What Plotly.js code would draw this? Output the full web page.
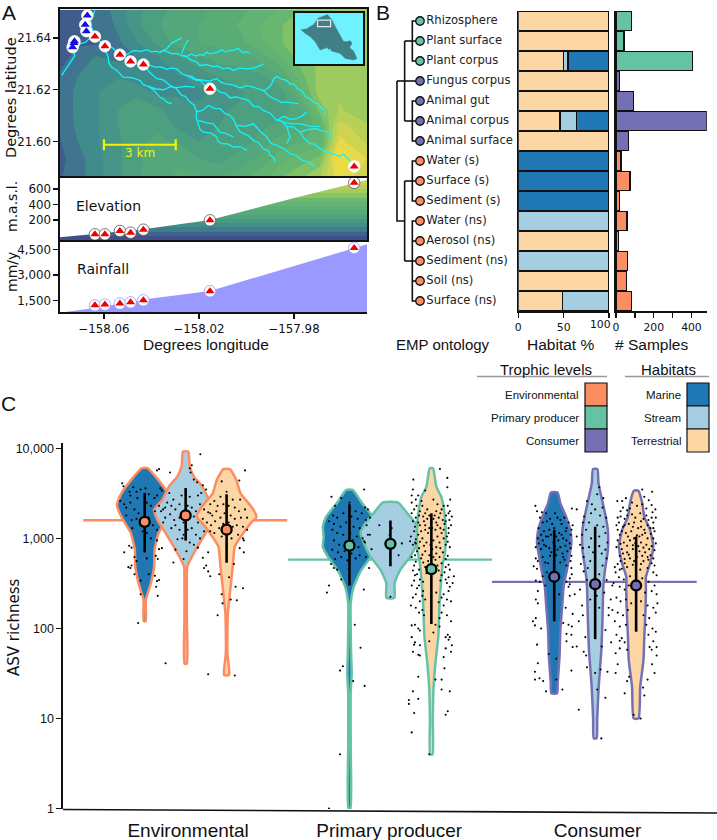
<!DOCTYPE html>
<html><head><meta charset="utf-8">
<script src="https://cdn.plot.ly/plotly-3.0.1.min.js"></script>
<style>html,body{margin:0;padding:0;background:#fff}</style></head>
<body><div id="chart" style="width:717px;height:840px"></div>
<script>
// ---------- Panel A data ----------
const mapLon=[-158.079,-158.071,-158.063,-158.054,-158.046,-158.037,-158.029,-158.020,-158.012,-158.003,-157.995,-157.986,-157.978,-157.969,-157.961,-157.949];
const mapLat=[21.651,21.645,21.638,21.632,21.625,21.619,21.612,21.606,21.600,21.593,21.586];
const mapElev=[
[30,40,60,110,170,210,240,260,280,300,330,360,400,430,450,460],
[20,30,50,100,170,220,260,270,290,320,360,400,430,450,460,470],
[20,40,40,80,130,190,240,270,280,300,340,400,430,450,460,470],
[30,60,100,80,90,130,170,210,240,250,280,340,420,460,470,470],
[50,90,130,130,100,120,130,150,180,200,210,260,380,470,480,470],
[60,100,130,170,170,120,130,130,140,170,210,200,320,480,490,460],
[60,100,130,180,200,190,150,140,170,190,200,210,240,420,500,470],
[50,100,130,180,210,220,170,150,180,190,220,230,250,350,560,500],
[40,90,130,170,220,230,220,180,190,210,230,290,310,330,600,530],
[30,70,120,170,220,240,260,230,210,240,280,340,380,420,680,580],
[40,70,120,170,220,250,280,280,270,300,340,400,440,500,620,540]];
const elevColors=[[0,'#3f4f8a'],[0.04,'#3f5f8c'],[0.08,'#3f7090'],[0.15,'#3f8a8c'],[0.3,'#4ea37e'],[0.55,'#6ab96e'],[0.65,'#9ccb60'],[0.85,'#e8d94a'],[1,'#f0e03a']];
const rivers=[
[-158.0778,21.6256,-158.0764,21.6275,-158.0743,21.6301,-158.0722,21.6333,-158.0732,21.6352,-158.0701,21.6378,-158.0676,21.6385,-158.0656,21.6403,-158.0638,21.6406],
[-158.0638,21.6406,-158.0652,21.6443,-158.0656,21.6468,-158.0642,21.6494,-158.0638,21.6507],
[-158.0638,21.6406,-158.0617,21.6388,-158.0596,21.6369,-158.0568,21.6365,-158.0533,21.6339],
[-158.0533,21.6339,-158.0515,21.6333,-158.0498,21.6339,-158.0485,21.6348,-158.0470,21.6352,-158.0445,21.6349,-158.0420,21.6355,-158.0400,21.6347,-158.0378,21.6350,-158.0365,21.6344,-158.0350,21.6352,-158.0332,21.6347,-158.0315,21.6339,-158.0295,21.6341,-158.0273,21.6333,-158.0252,21.6329,-158.0231,21.6339,-158.0214,21.6331,-158.0196,21.6336,-158.0181,21.6333,-158.0168,21.6346,-158.0154,21.6339,-158.0140,21.6342,-158.0122,21.6346,-158.0105,21.6355,-158.0088,21.6347,-158.0070,21.6352,-158.0052,21.6354,-158.0034,21.6361,-158.0026,21.6352,-158.0020,21.6346,-158.0004,21.6347,-157.9988,21.6343],
[-158.0364,21.6346,-158.0336,21.6359,-158.0315,21.6381,-158.0273,21.6401],
[-158.0273,21.6339,-158.0263,21.6365,-158.0245,21.6394],
[-158.0273,21.6333,-158.0252,21.6327,-158.0231,21.6314,-158.0212,21.6309,-158.0196,21.6294,-158.0168,21.6297,-158.0140,21.6290,-158.0120,21.6292,-158.0098,21.6281,-158.0076,21.6286,-158.0055,21.6275,-158.0030,21.6284,-158.0006,21.6281,-157.9970,21.6284,-157.9929,21.6298],
[-158.0533,21.6339,-158.0510,21.6321,-158.0488,21.6310,-158.0460,21.6299,-158.0434,21.6298,-158.0410,21.6295,-158.0385,21.6288,-158.0360,21.6289,-158.0336,21.6279,-158.0315,21.6285,-158.0294,21.6281,-158.0272,21.6262,-158.0252,21.6256,-158.0230,21.6252,-158.0210,21.6236,-158.0195,21.6237,-158.0182,21.6223,-158.0168,21.6208,-158.0154,21.6204,-158.0132,21.6206,-158.0112,21.6191,-158.0090,21.6187,-158.0070,21.6169,-158.0042,21.6172,-158.0014,21.6165,-157.9992,21.6159,-157.9971,21.6136,-157.9950,21.6135,-157.9929,21.6120,-157.9900,21.6109,-157.9873,21.6081,-157.9852,21.6079,-157.9831,21.6058,-157.9803,21.6056,-157.9775,21.6036,-157.9756,21.6010,-157.9733,21.5991,-157.9712,21.5988,-157.9691,21.5972,-157.9662,21.5957,-157.9634,21.5952,-157.9612,21.5942,-157.9592,21.5950,-157.9568,21.5929,-157.9547,21.5903],
[-158.0252,21.6256,-158.0224,21.6241,-158.0196,21.6239,-158.0160,21.6233,-158.0126,21.6243,-158.0105,21.6228,-158.0084,21.6223,-158.0055,21.6218,-158.0027,21.6207,-158.0000,21.6216,-157.9971,21.6210,-157.9950,21.6202,-157.9929,21.6197,-157.9910,21.6205,-157.9894,21.6223,-157.9885,21.6244,-157.9873,21.6252,-157.9852,21.6241,-157.9831,21.6236,-157.9815,21.6222,-157.9803,21.6223,-157.9786,21.6205,-157.9768,21.6197,-157.9750,21.6172,-157.9733,21.6165,-157.9714,21.6148,-157.9698,21.6146,-157.9685,21.6130,-157.9676,21.6127,-157.9668,21.6112,-157.9669,21.6094],
[-157.9929,21.6197,-157.9900,21.6172,-157.9873,21.6161,-157.9852,21.6150,-157.9831,21.6152,-157.9782,21.6146],
[-158.0596,21.6369,-158.0592,21.6348,-158.0582,21.6326,-158.0580,21.6305,-158.0568,21.6288,-158.0545,21.6274,-158.0519,21.6249,-158.0483,21.6247,-158.0448,21.6236,-158.0435,21.6220,-158.0413,21.6213,-158.0392,21.6200,-158.0378,21.6185,-158.0362,21.6170,-158.0350,21.6165,-158.0332,21.6150,-158.0315,21.6146],
[-158.0413,21.6213,-158.0380,21.6203,-158.0350,21.6200,-158.0320,21.6212,-158.0294,21.6208,-158.0255,21.6213,-158.0217,21.6210],
[-158.0434,21.6298,-158.0408,21.6268,-158.0378,21.6243,-158.0350,21.6238,-158.0322,21.6217,-158.0296,21.6205,-158.0273,21.6178,-158.0258,21.6175,-158.0238,21.6152,-158.0220,21.6140,-158.0210,21.6114,-158.0212,21.6092,-158.0203,21.6068,-158.0197,21.6048,-158.0182,21.6036,-158.0150,21.6032,-158.0126,21.6017,-158.0120,21.6000,-158.0105,21.5991,-158.0080,21.5990,-158.0055,21.5978,-158.0026,21.5980,-157.9999,21.5965],
[-158.0203,21.6081,-158.0172,21.6073,-158.0140,21.6068,-158.0122,21.6048,-158.0112,21.6036,-158.0085,21.6030,-158.0055,21.6017],
[-158.0210,21.6114,-158.0186,21.6120,-158.0161,21.6139,-158.0136,21.6128,-158.0112,21.6127,-158.0092,21.6109,-158.0070,21.6101,-158.0054,21.6085,-158.0041,21.6056,-158.0028,21.6038,-158.0013,21.6030,-157.9992,21.6022,-157.9971,21.6004,-157.9950,21.5995,-157.9929,21.5972,-157.9908,21.5964,-157.9901,21.5946,-157.9886,21.5938,-157.9880,21.5923],
[-158.0041,21.6062,-158.0005,21.6058,-157.9971,21.6068,-157.9944,21.6040,-157.9915,21.6017,-157.9897,21.5992,-157.9873,21.5985,-157.9844,21.5972,-157.9817,21.5952,-157.9790,21.5946,-157.9768,21.5927,-157.9742,21.5921,-157.9712,21.5903],
[-157.9873,21.6081,-157.9845,21.6097,-157.9815,21.6085,-157.9789,21.6088,-157.9768,21.6098,-157.9747,21.6114],
[-157.9845,21.6075,-157.9810,21.6068,-157.9775,21.6068,-157.9730,21.6059,-157.9691,21.6058],
[-157.9831,21.6058,-157.9822,21.6035,-157.9817,21.6017,-157.9831,21.5991],
[-157.9775,21.6036,-157.9740,21.6046,-157.9705,21.6049,-157.9680,21.6040,-157.9655,21.6036,-157.9648,21.6020,-157.9639,21.6007]];
const siteLon=[-158.0638,-158.0596,-158.0533,-158.0488,-158.0434,-158.0154,-157.9547];
const siteLat=[21.6406,21.6369,21.6336,21.6310,21.6298,21.6204,21.5903];
const siteElev=[15,15,58,37,75,196,680];
const siteRain=[1225,1265,1325,1400,1520,2050,4600];
const coastLon=[-158.0670,-158.0679,-158.0674,-158.0724,-158.0726,-158.0732];
const coastLat=[21.6488,21.6452,21.6427,21.6388,21.6381,21.6365];
const islandLon=[-158.2406,-158.1845,-158.1185,-158.069,-157.98,-157.937,-157.904,-157.8545,-157.8215,-157.782,-157.7555,-157.739,-157.762,-157.7225,-157.69,-157.7225,-157.805,-157.8545,-157.937,-158.003,-158.0525,-158.102,-158.1515,-158.201,-158.2406];
const islandLat=[21.555,21.565,21.6045,21.67,21.7035,21.654,21.588,21.5055,21.4395,21.4395,21.449,21.423,21.38,21.347,21.2745,21.258,21.2745,21.324,21.347,21.3735,21.357,21.4395,21.489,21.522,21.555];
const harborLon=[-158.01,-157.987,-157.97,-157.947,-157.96,-157.98,-158.0];
const harborLat=[21.357,21.38,21.357,21.367,21.34,21.324,21.34];
const extentLon=[-158.0785,-157.9493,-157.9493,-158.0785,-158.0785];
const extentLat=[21.651,21.651,21.586,21.586,21.651];
const insetSeaLon=[-158.30,-157.63,-157.63,-158.30,-158.30];
const insetSeaLat=[21.22,21.22,21.72,21.72,21.22];
const elevProfileLon=[-158.0785,-158.0434,-158.0154,-157.9803,-157.9493];
const elevProfile=[-24,80,200,480,716];
const elevBands=[-60,-5,50,105,160,215,270,325,380,435,490,545,600,655,710,765];
const elevBandZ=[0,40,90,140,190,240,300,350,400,440,490,530,570,610,650];
const rainProfileLon=[-158.0764,-158.0610,-158.0434,-158.0154,-157.9803,-157.9493];
const rainProfile=[830,1130,1560,2070,3520,4810];
// ---------- Panel B data ----------
const ontology=['Rhizosphere','Plant surface','Plant corpus','Fungus corpus','Animal gut','Animal corpus','Animal surface','Water (s)','Surface (s)','Sediment (s)','Water (ns)','Aerosol (ns)','Sediment (ns)','Soil (ns)','Surface (ns)'];
const trophicOfRow=['P','P','P','C','C','C','C','E','E','E','E','E','E','E','E'];
const pctTerrestrial=[100,100,50,100,100,46,100,0,0,0,0,100,0,100,49];
const pctStream=[0,0,5,0,0,18,0,0,0,0,100,0,100,0,51];
const pctMarine=[0,0,45,0,0,36,0,100,100,100,0,0,0,0,0];
const sampleCounts=[83,42,405,19,94,480,65,27,73,18,57,12,62,55,83];
const treeDepth=[3,2,2,3,null,1,3,null,3,2,2,3,null,1,3,null,1,1,null,0,3,null,0,0,1,null,3,2,2,3,null,1,3,null,1,1,null,3,2,2,3,null,2,3,null,2,3,null,1,3];
const treeRow=[0,0,2,2,null,1,1,null,4,4,6,6,null,5,5,null,1,5,null,3,3,null,3,10,10,null,7,7,9,9,null,8,8,null,8,12,null,10,10,14,14,null,11,11,null,13,13,null,12,12];
// ---------- Panel C data ----------
const trophicNames=['Environmental','Primary producer','Consumer'];
const groupMean=[1590,582,329];
const violins=[
 {pos:0,t:'E',h:'M',log:[3.78,3.65,3.50,3.37,3.24,3.06,2.87,2.69,2.50,2.32,2.08],hw:[.07,.33,.57,.68,.57,.34,.24,.23,.15,.03,.025],med:1530,lo:700,hi:3200},
 {pos:1,t:'E',h:'S',log:[3.965,3.80,3.69,3.575,3.43,3.32,3.205,3.06,2.87,2.69,2.575,2.1,1.61],hw:[.065,.1,.2,.41,.57,.77,.69,.49,.24,.04,.03,.03,.03],med:1800,lo:945,hi:3630},
 {pos:2,t:'E',h:'T',log:[3.77,3.65,3.50,3.35,3.24,3.17,3.06,2.91,2.69,2.39,2.17,2.0,1.72,1.55,1.48],hw:[.08,.24,.34,.61,.73,.59,.41,.2,.15,.08,.03,.02,.02,.06,.06],med:1250,lo:537,hi:3090},
 {pos:5,t:'P',h:'M',log:[3.54,3.39,3.24,3.13,3.02,2.91,2.80,2.65,2.46,2.28,2.0,1.73,1.5,1.28,0.7,0],hw:[.08,.31,.57,.65,.63,.65,.53,.29,.1,.03,.03,.04,.055,.03,.03,.025],med:830,lo:300,hi:2400},
 {pos:6,t:'P',h:'S',log:[3.40,3.28,3.17,3.06,2.95,2.80,2.65,2.50,2.34],hw:[.18,.41,.61,.73,.65,.49,.24,.1,.1],med:870,lo:490,hi:1580},
 {pos:7,t:'P',h:'T',log:[3.78,3.575,3.465,3.28,3.095,2.87,2.72,2.54,2.28,1.91,1.62,1.32,.98,.6],hw:[.04,.12,.24,.32,.35,.34,.28,.24,.2,.17,.1,.05,.035,.03],med:455,lo:112,hi:1900},
 {pos:10,t:'C',h:'M',log:[3.51,3.39,3.24,3.095,2.95,2.80,2.65,2.465,2.28,1.98,1.69,1.40,1.28],hw:[.08,.15,.29,.39,.42,.37,.31,.23,.2,.15,.13,.085,.07],med:375,lo:120,hi:1245},
 {pos:11,t:'C',h:'S',log:[3.77,3.62,3.465,3.28,3.095,2.87,2.65,2.465,2.13,1.75,1.35,1.0,.78],hw:[.055,.08,.15,.24,.31,.31,.24,.2,.18,.15,.085,.05,.035],med:310,lo:76,hi:1350},
 {pos:12,t:'C',h:'T',log:[3.53,3.39,3.24,3.095,2.91,2.72,2.575,2.43,2.21,1.91,1.65,1.35,1.0],hw:[.055,.15,.2,.34,.42,.34,.24,.24,.23,.2,.18,.1,.06],med:300,lo:92,hi:1050}];
const dotsEnv=[[-.55,4100],[-.52,3800],[-.37,3300],[-.35,3000],[-.28,3700],[-.2,3300],[-.18,2800],[-.1,3500],[.02,3600],[.3,5700],[.1,3100],[.24,2800],[.3,3000],[.38,3600],[.42,3400],[-.6,2600],[-.5,2400],[-.45,2200],[-.35,2500],[-.25,2100],[-.15,1900],[.05,2500],[.15,2300],[.25,2000],[.35,2300],[.4,2000],[.45,1500],[-.45,1800],[-.32,1600],[-.2,1650],[-.1,1400],[.1,1700],[.2,1400],[.3,1250],[-.3,1300],[-.05,1200],[.05,1150],[.15,1000],[.3,950],[.42,780],[.35,760],[-.38,830],[-.32,790],[-.5,700],[-.25,620],[.05,600],[.27,640],[.32,590],[-.4,480],[-.2,560],[-.32,500],[-.25,400],[-.35,470],[.1,400],[.25,385],[.35,345],[.3,335],[.28,290],[-.1,340],[-.1,240],[.32,230],[-.16,115],
[1.36,8600],[1.15,6500],[1.1,6000],[1.12,5400],[1.2,4500],[.35,5900],[.62,5400],[1.28,4200],[1.42,3900],[1.5,3500],[1.38,3200],[1.3,3000],[1.1,2900],[.9,3000],[.7,2700],[.6,3200],[.55,2500],[.5,2200],[.45,2100],[.65,2300],[.75,2100],[.85,2400],[.95,2000],[1.05,2300],[1.15,2200],[1.25,2000],[1.35,2400],[1.45,2100],[1.6,1900],[.5,1700],[.62,1850],[.72,1600],[.85,1700],[.95,1500],[1.05,1600],[1.2,1750],[1.3,1500],[1.42,1650],[.65,1300],[.75,1400],[.85,1250],[.95,1100],[1.05,1250],[1.15,1300],[1.25,1100],[1.35,1000],[1.45,1200],[.8,980],[.92,1000],[1.1,900],[1.2,850],[.75,750],[1.02,720],[1.3,790],[1.55,700],[1.5,500],[1.45,470],[1.55,430],[1.6,380],[1.42,610],[.95,590],[.7,540],[.51,41],[1.55,31],
[2.45,5700],[2.31,4400],[1.88,4300],[2.0,3300],[1.85,2900],[2.15,2700],[2.33,2700],[1.7,2600],[1.6,2400],[1.78,2300],[1.92,2400],[2.05,2300],[2.2,2200],[2.3,2000],[2.45,2100],[1.55,1950],[1.65,1800],[1.75,2000],[1.85,1700],[1.95,1900],[2.1,1800],[2.2,1650],[2.35,1700],[2.5,1700],[1.52,1500],[1.62,1400],[1.72,1550],[1.82,1300],[1.92,1450],[2.05,1500],[2.15,1350],[2.25,1400],[2.4,1350],[2.5,1250],[1.6,1200],[1.7,1150],[1.88,1050],[2.02,1150],[2.12,1000],[2.28,1100],[2.4,1000],[2.42,950],[2.0,860],[2.32,780],[2.42,700],[2.18,520],[1.82,400],[2.06,370],[2.4,280],[2.22,290],[1.88,240],[1.9,190],[2.1,210],[2.25,205],[1.78,140],[2.2,30]];
const dotsPrim=[[5.36,3500],[4.56,2900],[4.8,2800],[4.65,2300],[5.0,2500],[5.38,2200],[5.45,2100],[5.15,2000],[5.3,1900],[4.6,1800],[4.7,1700],[4.85,1900],[5.05,1750],[5.2,1650],[5.4,1600],[5.5,1700],[4.5,1550],[4.62,1450],[4.78,1350],[4.92,1500],[5.1,1350],[5.25,1300],[5.42,1400],[4.58,1250],[4.7,1150],[4.85,1100],[5.02,1150],[5.18,1050],[5.32,1000],[5.45,1100],[4.62,950],[4.75,850],[4.9,900],[5.08,950],[5.22,800],[5.38,900],[4.58,750],[4.72,700],[4.88,720],[5.05,680],[5.25,650],[4.65,590],[4.8,620],[4.95,570],[5.15,600],[5.4,620],[4.55,520],[4.62,470],[4.7,450],[4.98,460],[5.48,470],[4.8,350],[4.5,300],[5.35,270],[4.45,250],[4.5,1],[4.77,4],[4.77,34],[4.84,38],[5.09,26],[5.37,23],[5.27,61],[5.13,110],
[5.73,1400],[6.03,1300],[5.98,1090],[5.5,1100],[5.36,930],[6.28,880],[6.48,930],[6.6,900],[5.54,760],[6.2,650],[6,225],
[7.21,5900],[6.56,4500],[7.39,4700],[7.39,3700],[6.85,3400],[6.52,3000],[6.68,3000],[7.46,2700],[6.52,2500],[6.76,2600],[7.05,2700],[7.3,2300],[6.64,2300],[6.72,2000],[6.9,2100],[7.12,2000],[7.22,1900],[7.36,1800],[6.52,1900],[6.62,1700],[6.8,1750],[6.95,1800],[7.05,1650],[7.28,1600],[7.44,1600],[7.5,1750],[6.68,1500],[6.85,1400],[7.0,1500],[7.15,1400],[7.32,1450],[7.42,1300],[6.6,1350],[6.75,1200],[6.92,1150],[7.1,1250],[7.25,1150],[7.38,1050],[6.5,1050],[6.62,980],[6.78,1000],[6.88,900],[7.05,950],[7.2,900],[7.35,850],[7.45,800],[6.55,850],[6.7,780],[6.85,720],[7.02,760],[7.12,680],[7.28,700],[7.4,640],[6.6,650],[6.75,600],[6.92,560],[7.1,580],[7.25,530],[7.42,510],[6.58,500],[6.7,450],[6.85,480],[7.18,440],[7.32,420],[7.45,450],[7.55,380],[6.6,390],[6.72,350],[6.8,330],[7.22,340],[7.38,320],[7.45,290],[6.52,300],[6.65,280],[6.8,260],[7.12,250],[7.3,240],[7.42,260],[6.55,220],[6.72,200],[6.85,210],[7.18,195],[7.3,180],[7.48,200],[6.62,170],[6.78,160],[6.82,140],[7.25,150],[7.2,130],[6.6,110],[6.68,100],[6.72,95],[7.2,105],[7.4,85],[7.45,80],[7.5,65],[6.52,80],[6.6,70],[6.72,65],[7.35,60],[6.55,55],[6.72,50],[7.42,75],[7.3,48],[7.1,110],[7.05,90],[6.95,72],[6.52,108],[6.58,66],[6.68,51],[7.35,80],[7.48,55],[7.32,36],[6.68,29],[7.25,27],[7.1,27],[6.55,20],[7.25,21],[7.45,20],[6.45,16],[6.68,16.5],[6.45,14.5],[6.58,11.5],[7.4,12],[7.35,11],[6.52,7],[6.95,4],
[6.55,3500],[6.62,2700],[6.78,2300],[6.85,1900],[7.15,2400],[7.25,2100],[7.4,2300],[7.45,2000],[6.58,2100],[6.7,1800],[6.9,1650],[7.08,1800],[7.18,1700],[7.35,1550],[7.42,1900],[6.55,1550],[6.72,1400],[6.82,1550],[6.95,1300],[7.12,1500],[7.22,1300],[7.3,1250],[7.48,1400],[6.58,1200],[6.68,1100],[6.85,1250],[7.02,1300],[7.15,1050],[7.3,1000],[7.42,1150],[6.62,880],[6.72,920],[6.82,830],[6.98,850],[7.12,800],[7.22,780],[7.4,920],[6.65,720],[6.78,660],[6.95,650],[7.05,620],[7.2,620],[7.35,590],[6.52,620],[6.62,550],[6.8,540],[7.0,500],[7.15,500],[7.35,480],[6.55,440],[6.65,400],[6.88,410],[7.25,390],[7.42,370],[6.58,340],[6.7,300],[7.35,350],[7.52,320],[6.62,240],[6.78,230],[7.25,220],[7.38,210],[6.5,180],[6.7,150],[7.38,140],[7.48,120]];
const dotsCons=[[9.54,2300],[9.65,1700],[9.72,1500],[9.8,1900],[9.9,1650],[10.02,1900],[10.15,1600],[10.25,1700],[10.35,1500],[10.45,1400],[9.62,1300],[9.75,1200],[9.88,1250],[10.0,1300],[10.12,1150],[10.28,1200],[10.4,1100],[9.6,1000],[9.72,950],[9.85,1050],[9.98,900],[10.1,950],[10.22,1000],[10.38,880],[9.55,800],[9.68,760],[9.8,820],[9.93,700],[10.08,750],[10.2,680],[10.32,720],[10.42,640],[9.55,600],[9.6,560],[9.72,620],[9.85,530],[10.0,580],[10.15,540],[10.3,500],[10.42,470],[9.5,490],[9.58,460],[9.72,380],[9.82,420],[10.12,390],[10.38,360],[9.55,340],[9.65,330],[9.78,300],[10.35,290],[9.6,260],[10.12,240],[10.38,230],[9.55,210],[9.6,190],[10.28,170],[10.45,145],[9.55,130],[9.48,120],[10.35,110],[9.68,100],[10.42,85],[9.53,108],[9.58,66],[9.87,52],[9.6,41],[9.53,33],[9.64,28],[9.53,27],[9.73,26],[9.8,20],[10.2,21],[10.05,46],[10.05,27],[10.3,72],[10.45,62],[10.42,34],[10.6,12.5],
[9.58,2000],[9.7,1950],[9.82,1550],[9.95,1450],[10.08,1700],[10.18,1450],[10.3,1300],[10.42,1250],[9.68,1100],[9.8,1050],[9.92,1100],[10.05,1050],[10.18,1100],[10.3,950],[9.62,880],[9.75,850],[9.88,780],[10.02,820],[10.15,800],[10.27,830],[10.4,780],[9.9,640],[10.05,650],[10.22,620],[9.78,540],[10.25,580],[10.4,560],
[11.1,3700],[11,2100],[10.9,1900],[10.73,1750],[11.12,1800],[11.27,1700],[10.78,1250],[11.25,1150],[10.55,1050],[11,1000],[10.63,850],[11.16,680],[10.88,560],[11.28,600],[10.43,400],[10.3,330],[10.38,310],[10.5,240],[10.68,180],[11.04,230],[11.33,170],[10.6,120],[10.76,80],[10.3,87],[10.43,105],[10.22,115],[11.28,345],[10.72,430],[10.63,270],[10.8,345],[11.25,96],[11.16,63],[10.72,55],[10.55,63],[11.33,140],[10.78,50],[10.8,37],[11,32],[11.05,21],[11.25,17],[11.13,35],[11.3,33],[11.15,6],[10.55,2100],[10.43,2150],
[10.8,2600],[11.2,2800],[11.05,3100],[10.92,2400],[11.18,2200],[10.7,1500],[10.85,1500],[11.05,1400],[11.2,1350],[10.68,1100],[10.9,1000],[11.1,1050],[11.3,900],[10.7,780],[10.85,800],[11.1,820],[11.25,750],[10.72,620],[10.95,700],[11.18,500],[10.82,470],[11.1,400],[10.65,520],[10.95,300],[11.22,250],[10.88,210],[11.1,170],[10.7,140],[11.42,300],[11.38,210],
[12.15,3500],[12.39,3300],[11.54,2600],[11.66,2600],[12.31,2650],[12.47,2100],[11.78,2050],[11.62,2000],[12.02,2300],[11.55,1700],[12.4,1950],[12.25,1800],[12.1,1900],[11.9,1850],[11.72,1650],[11.58,1500],[12.3,1600],[12.42,1500],[12.12,1550],[11.95,1500],[11.82,1450],[11.68,1350],[11.55,1250],[12.05,1300],[12.2,1250],[12.35,1300],[12.45,1200],[11.6,1100],[11.75,1150],[11.88,1200],[12.02,1080],[12.15,1100],[12.28,1000],[12.42,1000],[11.55,950],[11.7,900],[11.85,950],[11.98,880],[12.12,900],[12.25,850],[12.38,820],[12.48,880],[11.52,800],[11.65,760],[11.78,700],[11.92,760],[12.08,720],[12.22,700],[12.35,650],[11.6,640],[11.72,590],[11.85,600],[12.02,620],[12.18,560],[12.3,580],[12.45,500],[11.55,520],[11.65,460],[11.78,480],[11.92,510],[12.1,450],[12.28,470],[12.42,420],[12.5,390],[11.5,420],[11.58,370],[11.7,350],[11.85,380],[11.98,340],[12.15,360],[12.3,330],[12.45,300],[11.45,320],[11.6,290],[11.72,270],[11.82,300],[12.08,280],[12.22,250],[12.38,260],[12.5,240],[11.52,220],[11.62,200],[11.75,210],[11.88,190],[12.12,200],[12.28,180],[12.42,170],[12.52,190],[11.42,160],[11.55,150],[11.68,140],[11.8,160],[12.18,140],[12.32,130],[12.48,150],[11.48,120],[11.6,105],[11.75,110],[12.25,110],[12.4,100],[12.48,92],[11.52,85],[11.65,78],[11.72,70],[12.3,85],[12.42,72],[11.6,60],[11.78,58],[12.38,58],[12.5,62],[11.39,70],[11.5,53],[11.6,73],[11.55,40],[11.78,26],[11.83,29],[12.33,62],[12.5,50],[12.39,40],[12.45,32],[12.28,27],[12.17,22],[12.2,18],[11.72,19],[11.94,11],[12.11,10],[11.5,32],
[12.2,2900],[11.75,2800],[11.9,2500],[12.15,2400],[12.38,2350],[11.68,2200],[11.85,2150],[12.25,2150],[12.48,1700],[11.62,1750],[11.78,1800],[11.98,1700],[12.18,1650],[12.38,1700],[11.52,1400],[11.72,1400],[11.92,1350],[12.12,1350],[12.28,1400],[12.42,1300],[11.65,1200],[11.8,1050],[11.95,1000],[12.08,1050],[12.22,1150],[12.36,1120],[11.62,870],[11.78,830],[11.92,840],[12.05,820],[12.18,790],[12.32,760],[12.45,740],[11.68,680],[11.82,660],[12.0,680],[12.15,640],[12.28,620],[12.42,600],[11.62,560],[11.72,530],[11.95,560],[12.12,520],[12.38,530],[11.48,480],[11.6,450]];
// ---------- Styles ----------
const W=717,H=840;
const tColor={E:'#fc8d62',P:'#66c2a5',C:'#7570b3'};
const hColor={M:'#1f78b4',S:'#a6cee3',T:'#fdd6a5'};
const SANS='"Liberation Sans",Arial,sans-serif', GRANDE='"DejaVu Sans",sans-serif';
const domX=(a,b)=>[a/W,b/W], domY=(t,b)=>[1-b/H,1-t/H];
const ink='#111';
const base=(o)=>Object.assign({showgrid:false,zeroline:false,ticks:'',showticklabels:false,showline:false,fixedrange:true},o);
const axisTick=(o)=>base(Object.assign({ticks:'outside',ticklen:5,tickwidth:1.4,tickcolor:ink,showticklabels:true,showline:true,linecolor:ink,linewidth:1.6,tickfont:{family:GRANDE,size:11.8,color:ink}},o));
const lonRange=[-158.0785,-157.9493];
const T=[]; const add=(o)=>{T.push(Object.assign({hoverinfo:'skip',showlegend:false},o));};
// Map
add({type:'contour',x:mapLon,y:mapLat,z:mapElev,colorscale:elevColors,zmin:0,zmax:720,showscale:false,autocontour:false,contours:{start:0,end:760,size:45,coloring:'fill',showlines:false},line:{width:0,smoothing:0.3},xaxis:'x',yaxis:'y'});
const rx=[],ry=[]; rivers.forEach(r=>{for(let i=0;i<r.length;i+=2){rx.push(r[i]);ry.push(r[i+1]);} rx.push(null);ry.push(null);});
add({type:'scatter',mode:'lines',x:rx,y:ry,line:{color:'#10f4ff',width:1.3},xaxis:'x',yaxis:'y'});
add({type:'scatter',mode:'lines+markers',x:[-158.06,-158.0298],y:[21.5987,21.5987],line:{color:'#f2f200',width:2.2},marker:{symbol:'line-ns',size:8,line:{color:'#f2f200',width:2.2}},xaxis:'x',yaxis:'y'});
add({type:'scatter',mode:'text',x:[-158.0448],y:[21.5952],text:['3 km'],textfont:{family:GRANDE,size:12,color:'#f2f200'},xaxis:'x',yaxis:'y'});
const sites=(x,y,ax,ay,tri,ring)=>{
 add({type:'scatter',mode:'markers',x,y,marker:{symbol:'circle',size:11.5,color:'#fff',line:{color:ring,width:0.8}},xaxis:ax,yaxis:ay});
 add({type:'scatter',mode:'markers',x,y,marker:{symbol:'triangle-up',size:8,color:tri},xaxis:ax,yaxis:ay});};
sites(coastLon,coastLat,'x','y','#1010e0','#fff');
sites(siteLon,siteLat,'x','y','#ee0000','#fff');
// Inset
add({type:'scatter',mode:'lines',x:insetSeaLon,y:insetSeaLat,fill:'toself',fillcolor:'#6ff2ff',line:{width:0,color:'#6ff2ff'},xaxis:'x2',yaxis:'y2'});
add({type:'scatter',mode:'lines',x:islandLon,y:islandLat,fill:'toself',fillcolor:'#3f7f85',line:{color:'#3f7f85',width:0.5},xaxis:'x2',yaxis:'y2'});
add({type:'scatter',mode:'lines',x:harborLon,y:harborLat,fill:'toself',fillcolor:'#6ff2ff',line:{color:'#6ff2ff',width:0.5},xaxis:'x2',yaxis:'y2'});
add({type:'scatter',mode:'lines',x:extentLon,y:extentLat,line:{color:'#e8e8e8',width:1.3},xaxis:'x2',yaxis:'y2'});
// Elevation
add({type:'heatmap',x:lonRange,y:elevBands,z:elevBandZ.map(v=>[v]),colorscale:elevColors,zmin:0,zmax:800,showscale:false,xaxis:'x3',yaxis:'y3'});
add({type:'scatter',mode:'lines',x:elevProfileLon.concat([lonRange[1],lonRange[0],lonRange[0]]),y:elevProfile.concat([800,800,elevProfile[0]]),fill:'toself',fillcolor:'#fff',line:{width:0,color:'#fff'},xaxis:'x3',yaxis:'y3'});
sites(siteLon,siteElev,'x3','y3','#ee0000','#555');
// Rainfall
add({type:'scatter',mode:'lines',x:rainProfileLon.concat([lonRange[1]]),y:rainProfile.concat([4900]),fill:'tozeroy',fillcolor:'#9999ff',line:{width:0,color:'#9999ff'},xaxis:'x4',yaxis:'y4'});
sites(siteLon,siteRain,'x4','y4','#ee0000','#9999ff');
// Tree
const rows=ontology.map((_,i)=>i);
add({type:'scatter',mode:'lines',x:treeDepth,y:treeRow,line:{color:ink,width:1.6},xaxis:'x5',yaxis:'y5'});
add({type:'scatter',mode:'markers+text',x:rows.map(()=>3),y:rows,text:ontology,textposition:'middle right',textfont:{family:GRANDE,size:11.6,color:'#222'},marker:{size:8.5,color:trophicOfRow.map(k=>tColor[k]),line:{color:ink,width:1.3}},xaxis:'x5',yaxis:'y5'});
// Habitat %
[[pctTerrestrial,'T'],[pctStream,'S'],[pctMarine,'M']].forEach(([v,k])=>add({type:'bar',orientation:'h',x:v,y:rows,marker:{color:hColor[k],line:{color:ink,width:1.5}},width:0.97,xaxis:'x6',yaxis:'y6'}));
// Samples
add({type:'bar',orientation:'h',x:sampleCounts,y:rows,marker:{color:trophicOfRow.map(k=>tColor[k]),line:{color:ink,width:1.5}},width:0.97,xaxis:'x7',yaxis:'y7'});
// Violins
const vX='x8',vY='y8';
const groupStart=[-1.5,3.5,8.48],groupEnd=[3.48,8.48,13.48],tk=['E','P','C'];
tk.forEach((k,i)=>add({type:'scatter',mode:'lines',x:[groupStart[i],groupEnd[i]],y:[groupMean[i],groupMean[i]],line:{color:tColor[k],width:2.4},xaxis:vX,yaxis:vY}));
violins.forEach(v=>{
 const L=v.log.map(l=>Math.pow(10,l));
 const xs=v.hw.map(w=>v.pos-w).concat(v.hw.slice().reverse().map(w=>v.pos+w));
 const ys=L.concat(L.slice().reverse());
 xs.push(xs[0]);ys.push(ys[0]);
 add({type:'scatter',mode:'lines',x:xs,y:ys,fill:'toself',fillcolor:hColor[v.h],line:{color:tColor[v.t],width:2.5,shape:'spline',smoothing:0.5},xaxis:vX,yaxis:vY});
});
const dotsAll=dotsEnv.concat(dotsPrim,dotsCons);
add({type:'scatter',mode:'markers',x:dotsAll.map(d=>d[0]),y:dotsAll.map(d=>d[1]),marker:{size:2.1,color:'#000'},xaxis:vX,yaxis:vY});
violins.forEach(v=>{
 add({type:'scatter',mode:'lines',x:[v.pos,v.pos],y:[v.lo,v.hi],line:{color:'#000',width:2.6},xaxis:vX,yaxis:vY});
 add({type:'scatter',mode:'markers',x:[v.pos],y:[v.med],marker:{size:10,color:tColor[v.t],line:{color:'#000',width:2.3}},xaxis:vX,yaxis:vY});
});
// ---------- Layout ----------
const lonTicks=[-158.06,-158.02,-157.98];
const smallTick={family:GRANDE,size:10.8,color:ink};
const layout={width:W,height:H,margin:{l:0,r:0,t:0,b:0},paper_bgcolor:'#fff',plot_bgcolor:'rgba(0,0,0,0)',barmode:'stack',showlegend:false,
 xaxis:axisTick({domain:domX(60,367),range:lonRange,mirror:true,ticks:'',showticklabels:false,anchor:'y'}),
 yaxis:axisTick({domain:domY(9,177.5),range:[21.586,21.6513],tickvals:[21.60,21.62,21.64],tickformat:'.2f',mirror:true,anchor:'x'}),
 xaxis2:axisTick({domain:domX(295,363),range:[-158.30,-157.63],ticks:'',showticklabels:false,mirror:true,linewidth:2,anchor:'y2'}),
 yaxis2:axisTick({domain:domY(13,64),range:[21.22,21.72],ticks:'',showticklabels:false,mirror:true,linewidth:2,anchor:'x2'}),
 xaxis3:axisTick({domain:domX(60,367),range:lonRange,ticks:'',showticklabels:false,mirror:true,anchor:'y3'}),
 yaxis3:axisTick({domain:domY(178,240),range:[-58,742],tickvals:[200,400,600],mirror:true,anchor:'x3'}),
 xaxis4:axisTick({domain:domX(60,367),range:lonRange,tickvals:lonTicks,tickformat:'.2f',anchor:'y4'}),
 yaxis4:axisTick({domain:domY(241,312),range:[830,5006],tickvals:[1500,3000,4500],tickformat:',',anchor:'x4'}),
 xaxis5:base({domain:domX(390,517),range:[-0.91,15.65],anchor:'y5'}),
 yaxis5:base({domain:domY(11,311),range:[14.5,-0.5],anchor:'x5'}),
 xaxis6:axisTick({domain:domX(518.3,609),range:[0,100],tickvals:[0,50,100],ticktext:['0','50',''],anchor:'y6',ticklen:5,tickfont:smallTick}),
 yaxis6:axisTick({domain:domY(11,311),range:[14.5,-0.5],ticks:'',showticklabels:false,anchor:'x6'}),
 xaxis7:axisTick({domain:domX(616,706.7),range:[0,481],tickvals:[0,100,200,300,400],ticktext:['0','','200','','400'],anchor:'y7',tickfont:smallTick}),
 yaxis7:axisTick({domain:domY(11,311),range:[14.5,-0.5],ticks:'',showticklabels:false,anchor:'x7'}),
 xaxis8:base({domain:domX(63,717),range:[-1.995,13.975],anchor:'y8',tickmode:'array',tickvals:[1.06,5.97,11.06],ticktext:trophicNames,ticks:'outside',ticklen:4,tickcolor:'rgba(0,0,0,0)',showticklabels:true,tickfont:{family:SANS,size:19,color:ink}}),
 yaxis8:axisTick({domain:domY(443,809),type:'log',range:[-0.006,4.06],tickvals:[1,10,100,1000,10000],ticktext:['1','10','100','1,000','10,000'],anchor:'x8',tickfont:{family:SANS,size:12.5,color:ink}}),
 annotations:[],shapes:[]};
const note=(text,x,y,size,fam,anchor,angle)=>layout.annotations.push({text,xref:'paper',yref:'paper',x:x/W,y:1-y/H,xanchor:anchor||'center',yanchor:'middle',showarrow:false,textangle:angle||0,font:{family:fam||SANS,size:size,color:ink}});
note('A',9,13,21);note('B',383,13,21);note('C',8,403,21);
note('Degrees latitude',11,98,14.5,GRANDE,'center',-90);
note('m.a.s.l.',12,206,14,GRANDE,'center',-90);
note('mm/y',12,272,14,GRANDE,'center',-90);
note('Elevation',108,206,14,GRANDE);
note('Rainfall',103,269,14,GRANDE);
note('Degrees longitude',206,344,15.5);
note('EMP ontology',443,344,15);note('Habitat %',560,344,15.5);note('# Samples',651,344,15.5);
note('100',600,325,10.8,GRANDE);
note('Trophic levels',546,369,15);note('Habitats',668,369,15);
note('ASV richness',14,628,15,GRANDE,'center',-90);
const legendTop=[383,406,429];
trophicNames.forEach((n,i)=>{note(n,581,legendTop[i]+11.5,11.5,SANS,'right');
 layout.shapes.push({type:'rect',xref:'paper',yref:'paper',x0:585/W,x1:607/W,y0:1-legendTop[i]/H,y1:1-(legendTop[i]+23)/H,fillcolor:tColor[tk[i]],line:{color:ink,width:1.2}});});
['Marine','Stream','Terrestrial'].forEach((n,i)=>{note(n,683,legendTop[i]+11.5,11.5,SANS,'right');
 layout.shapes.push({type:'rect',xref:'paper',yref:'paper',x0:687/W,x1:709/W,y0:1-legendTop[i]/H,y1:1-(legendTop[i]+23)/H,fillcolor:hColor['MST'[i]],line:{color:ink,width:1.2}});});
[[477,607],[625,709]].forEach(([a,b])=>layout.shapes.push({type:'line',xref:'paper',yref:'paper',x0:a/W,x1:b/W,y0:1-376.5/H,y1:1-376.5/H,line:{color:'#999',width:1.4}}));
layout.shapes.push({type:'line',xref:'paper',yref:'paper',x0:63/W,x1:1,y0:1-809.5/H,y1:1-813/H,line:{color:ink,width:1.6}});
Plotly.newPlot('chart',T,layout,{displayModeBar:false,staticPlot:true});
</script></body></html>
